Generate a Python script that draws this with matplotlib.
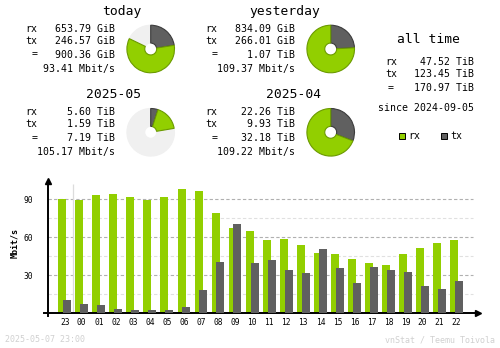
import numpy as np
import matplotlib
matplotlib.use("Agg")
import matplotlib.pyplot as plt
from matplotlib.patches import Rectangle

W, H = 500, 348
RX_COLOR = "#92cf00"
TX_COLOR = "#606060"
RX_EDGE = "#6b9a00"
TX_EDGE = "#3c3c3c"
PIE_BG = "#f0f0f0"
FONT = "DejaVu Sans Mono"

# hourly averages (Mbit/s), starting at 23:00 of the previous day
hours = ["23", "00", "01", "02", "03", "04", "05", "06", "07", "08", "09", "10",
         "11", "12", "13", "14", "15", "16", "17", "18", "19", "20", "21", "22"]
rx_hourly = [90.2, 89.4, 93.4, 94.2, 91.8, 89.4, 91.8, 98.1, 96.5, 79.2, 67.4, 65.0,
             57.9, 58.7, 54.0, 47.7, 46.9, 42.9, 39.8, 38.2, 46.9, 51.6, 55.5, 57.9]
tx_hourly = [10.5, 7.3, 6.5, 3.4, 2.6, 2.6, 2.6, 5.0, 18.4, 40.5, 70.5, 39.7,
             42.1, 34.2, 31.8, 50.7, 35.8, 24.0, 36.6, 34.2, 32.6, 21.6, 19.2, 25.5]

# summary blocks: title, rx, tx, total, rate
periods = ["today", "yesterday", "2025-05", "2025-04"]
rx_text = ["653.79 GiB", "834.09 GiB", "5.60 TiB", "22.26 TiB"]
tx_text = ["246.57 GiB", "266.01 GiB", "1.59 TiB", "9.93 TiB"]
total_text = ["900.36 GiB", "1.07 TiB", "7.19 TiB", "32.18 TiB"]
rate_text = ["93.41 Mbit/s", "109.37 Mbit/s", "105.17 Mbit/s", "109.22 Mbit/s"]

# pie values in GiB; the current period is scaled against the previous one
rx_gib = [653.79, 834.09, 5.60 * 1024, 22.26 * 1024]
tx_gib = [246.57, 266.01, 1.59 * 1024, 9.93 * 1024]
pie_scale = [1.07 * 1024, None, 32.18 * 1024, None]

alltime_rx = "47.52 TiB"
alltime_tx = "123.45 TiB"
alltime_total = "170.97 TiB"
since = "since 2024-09-05"


def fx(x):
    return x / W


def fy(y):
    return 1 - y / H


fig = plt.figure(figsize=(W / 100, H / 100), dpi=100)
fig.patch.set_facecolor("white")


def txt(x, y, s, size=7.1, ha="left", color="black", **kw):
    fig.text(fx(x), fy(y), s, ha=ha, va="center", fontsize=size,
             family=FONT, color=color, **kw)


# summary text + pies
cols = [0, 180, 0, 180]
rows = [0, 83, 83, 0]
rows = [0, 0, 83.3, 83.3]
title_x = [122, 285, 114, 294]
for i, name in enumerate(periods):
    ox, oy = cols[i], rows[i]
    txt(title_x[i], 11 + oy, name, size=9.4, ha="center")
    txt(25 + ox, 29 + oy, "rx")
    txt(25 + ox, 41 + oy, "tx")
    txt(34.3 + ox, 54.5 + oy, "=", ha="center")
    txt(115 + ox, 29 + oy, rx_text[i], ha="right")
    txt(115 + ox, 41 + oy, tx_text[i], ha="right")
    txt(115 + ox, 54.5 + oy, total_text[i], ha="right")
    txt(115 + ox, 69 + oy, rate_text[i], ha="right")

    cx, cy, r = 150.7 + ox, 49 + oy, 24.5
    pax = fig.add_axes([fx(cx - r), fy(cy + r), 2 * r / W, 2 * r / H])
    vals = [tx_gib[i], rx_gib[i]]
    colors = [TX_COLOR, RX_COLOR]
    edges = [TX_EDGE, RX_EDGE]
    if pie_scale[i] is not None:
        vals.append(max(pie_scale[i] - sum(vals), 0))
        colors.append(PIE_BG)
        edges.append(PIE_BG)
    wedges, _ = pax.pie(vals, colors=colors, startangle=90, counterclock=False,
                        radius=1.0, wedgeprops=dict(width=0.75, linewidth=0.8))
    for w, e in zip(wedges, edges):
        w.set_edgecolor(e)
    # put grey remainder below the coloured slices
    if len(wedges) == 3:
        wedges[2].set_zorder(0)
    pax.set_xlim(-1.03, 1.03)
    pax.set_ylim(-1.03, 1.03)
    pax.axis("off")

# all time block
txt(428.8, 39.3, "all time", size=9.4, ha="center")
txt(385, 62, "rx")
txt(385, 74, "tx")
txt(390.5, 88, "=", ha="center")
txt(474.3, 62, alltime_rx, ha="right")
txt(474.3, 74, alltime_tx, ha="right")
txt(474.3, 88, alltime_total, ha="right")
txt(426.3, 108, since, ha="center")

# legend
for lx, col, edge, lab in [(399, RX_COLOR, "black", "rx"), (440.7, TX_COLOR, "black", "tx")]:
    fig.add_artist(Rectangle((fx(lx), fy(139)), 6 / W, 6 / H, transform=fig.transFigure,
                             facecolor=col, edgecolor=edge, linewidth=0.7))
    txt(lx + 9.5, 136, lab)

# hourly bar chart
x0_px, x1_px = 48, 478
base_px, top_px = 313.3, 181
step = 17.04
first_px = 64.7
unit = 1.2667
ax = fig.add_axes([fx(x0_px), fy(base_px), (x1_px - x0_px) / W, (base_px - top_px) / H])
xl = ((x0_px - first_px) / step, (x1_px - first_px) / step)
ax.set_xlim(*xl)
ax.set_ylim(0, (base_px - top_px) / unit)

x = np.arange(len(hours))
grid_end = (473 - first_px) / step
for v in [15, 45, 75]:
    ax.hlines(v, xl[0], grid_end, colors="#e0e0e0", linewidth=0.8,
              linestyles=(0, (3, 2)), zorder=0)
for v in [30, 60, 90]:
    ax.hlines(v, xl[0], grid_end, colors="#b0b0b0", linewidth=0.8,
              linestyles=(0, (3, 2)), zorder=0)
ax.vlines(0.5, 0, 102, colors="#dcdcdc", linewidth=0.9, zorder=0)

bw = 8 / step
ax.bar(x - 0.145, rx_hourly, width=bw, color=RX_COLOR, linewidth=0, zorder=2)
ax.bar(x + 0.14, tx_hourly, width=bw, color=TX_COLOR, linewidth=0, zorder=3)

for s in ["top", "right"]:
    ax.spines[s].set_visible(False)
for s in ["left", "bottom"]:
    ax.spines[s].set_linewidth(1.4)
    ax.spines[s].set_color("black")
# small axis overhangs and arrows
ax.plot([xl[0] - 4 / step, xl[0]], [0, 0], color="black", lw=1.4, clip_on=False)
ax.plot([xl[0], xl[0]], [0, -3 / unit], color="black", lw=1.4, clip_on=False)
ax.plot([0], [1], marker="^", ms=4, color="black", transform=ax.transAxes, clip_on=False)
ax.plot([1], [0], marker=">", ms=4, color="black", transform=ax.transAxes, clip_on=False)

ax.set_xticks(x)
ax.set_xticklabels(hours, family=FONT, fontsize=5.7)
ax.set_yticks([30, 60, 90])
ax.set_yticklabels(["30", "60", "90"], family=FONT, fontsize=5.7)
ax.tick_params(axis="x", length=0, pad=3.2)
ax.tick_params(axis="y", length=0, pad=10.5)
ax.set_facecolor("none")

txt(14.3, 243, "Mbit/s", size=6, ha="center", rotation=90, fontweight="bold")

# footer
txt(5, 340, "2025-05-07 23:00", size=6, color="#d0d0d0")
txt(495, 340, "vnStat / Teemu Toivola", size=6, ha="right", color="#d0d0d0")

fig.savefig("out.png", dpi=100, facecolor="white")
